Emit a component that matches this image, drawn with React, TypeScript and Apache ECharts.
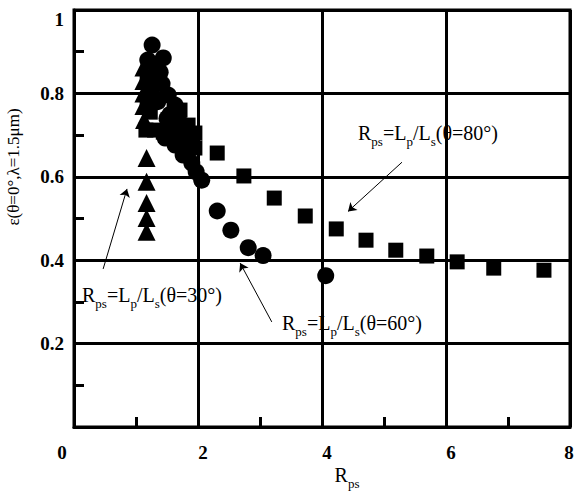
import React, { useEffect, useRef } from 'react';
import * as echarts from 'echarts';

// θ = 60° (circles)
const circles60: number[][] = [
  [1.26, 0.916], [1.19, 0.880], [1.44, 0.885], [1.33, 0.860], [1.39, 0.851],
  [1.42, 0.823], [1.30, 0.820], [1.52, 0.796], [1.35, 0.780], [1.63, 0.772],
  [1.55, 0.750], [1.68, 0.743], [1.50, 0.740], [1.58, 0.720], [1.71, 0.717],
  [1.66, 0.700], [1.75, 0.700], [1.79, 0.688], [1.47, 0.693], [1.88, 0.680],
  [1.63, 0.676], [1.84, 0.659], [1.76, 0.652], [1.90, 0.633], [1.97, 0.612],
  [2.06, 0.592],
  [2.31, 0.518], [2.53, 0.472], [2.81, 0.430], [3.05, 0.411], [4.06, 0.363],
];

// θ = 80° (squares)
const squares80: number[][] = [
  [1.16, 0.712], [1.18, 0.780], [1.18, 0.830], [1.23, 0.755], [1.23, 0.796],
  [1.26, 0.837], [1.30, 0.712], [1.44, 0.707], [1.71, 0.760], [1.84, 0.724],
  [1.95, 0.705], [1.95, 0.669],
  [2.31, 0.657], [2.74, 0.602], [3.23, 0.549], [3.73, 0.506], [4.23, 0.475],
  [4.71, 0.448], [5.19, 0.424], [5.69, 0.410], [6.18, 0.396], [6.77, 0.381],
  [7.58, 0.376],
];

// θ = 30° (triangles)
const triangles30: number[][] = [
  [1.12, 0.862], [1.12, 0.830], [1.12, 0.800], [1.12, 0.770], [1.13, 0.736],
  [1.17, 0.645], [1.17, 0.588], [1.17, 0.537], [1.17, 0.501], [1.17, 0.468],
];

// annotation arrows [from, to] in data coordinates
const arrows: number[][][] = [
  [[5.29, 0.635], [4.42, 0.517]],
  [[0.47, 0.379], [0.855, 0.571]],
  [[3.19, 0.252], [2.68, 0.393]],
];

const annotationAngles = ['80', '30', '60'];
const xAxisName = 'Rps';
const yAxisName = 'ε(θ=0°,λ=1.5μm)';

export default function App() {
  const ref = useRef<HTMLDivElement>(null);
  useEffect(() => {
    const chart = echarts.init(ref.current!, null, { renderer: 'svg' });
    const serif = '"Liberation Serif", "Times New Roman", serif';
    const rich = {
      m: { fontSize: 20, fontFamily: serif, color: '#000', lineHeight: 22 },
      s: { fontSize: 13, fontFamily: serif, color: '#000', lineHeight: 14, padding: [16, 0, 0, 0] },
    };
    const annoText = (a: string) => `{m|R}{s|ps}{m|=L}{s|p}{m|/L}{s|s}{m|(θ=${a}°)}`;
    const annoPos = [[358, 133], [82, 295], [282, 323]];
    const graphics: any[] = annotationAngles.map((a, i) => ({
      type: 'text',
      x: annoPos[i][0],
      y: annoPos[i][1],
      silent: true,
      style: {
        text: annoText(a),
        rich,
        align: 'left',
        textAlign: 'left',
        verticalAlign: 'middle',
        textVerticalAlign: 'middle',
      },
    }));
    graphics.push({
      type: 'text',
      x: 347,
      y: 475,
      silent: true,
      style: {
        text: `{m|${xAxisName[0]}}{s|${xAxisName.slice(1)}}`,
        rich,
        align: 'center',
        textAlign: 'center',
        verticalAlign: 'middle',
        textVerticalAlign: 'middle',
      },
    });
    graphics.push({
      type: 'text',
      x: 13,
      y: 167,
      rotation: Math.PI / 2,
      silent: true,
      style: {
        text: yAxisName,
        fontSize: 17,
        fontFamily: serif,
        fill: '#000',
        align: 'center',
        textAlign: 'center',
        verticalAlign: 'middle',
        textVerticalAlign: 'middle',
      },
    });

    const labelFont = { fontSize: 19, fontFamily: serif, fontWeight: 'bold' as const, color: '#000' };
    const black3 = { color: '#000', width: 3 };

    chart.setOption({
      animation: false,
      backgroundColor: '#fff',
      grid: {
        left: 74, right: 8, top: 10, bottom: 67,
        show: true, borderColor: '#000', borderWidth: 3,
        containLabel: false,
        outerBoundsMode: 'none',
      },
      xAxis: {
        type: 'value',
        min: 0, max: 8, interval: 2,
        axisLine: { show: true, lineStyle: black3 },
        axisTick: { show: false, inside: true },
        minorTick: { show: true, splitNumber: 2, length: 10, lineStyle: black3 },
        splitLine: { show: true, lineStyle: black3 },
        minorSplitLine: { show: false },
        axisLabel: {
          margin: 16,
          ...labelFont,
          formatter: (v: number) => (v === 0 ? '{z|0}' : v === 8 ? '{e|8}' : `{n|${v}}`),
          rich: {
            z: { ...labelFont, padding: [0, 24, 0, 0] },
            n: { ...labelFont, padding: [0, 0, 0, 10] },
            e: { ...labelFont, padding: [0, 2, 0, 0] },
          },
        },
      },
      yAxis: {
        type: 'value',
        min: 0, max: 1, interval: 0.2,
        axisLine: { show: true, lineStyle: black3 },
        axisTick: { show: false, inside: true },
        minorTick: { show: true, splitNumber: 2, length: 10, lineStyle: black3 },
        splitLine: { show: true, lineStyle: black3 },
        minorSplitLine: { show: false },
        axisLabel: {
          margin: 10,
          ...labelFont,
          formatter: (v: number) => (v === 0 ? '' : v === 1 ? '{t|1}' : `{n|${v.toFixed(1)}}`),
          rich: {
            t: { ...labelFont, padding: [18, 0, 0, 0] },
            n: { ...labelFont },
          },
        },
      },
      series: [
        {
          type: 'scatter',
          data: circles60,
          symbol: 'circle',
          symbolSize: 17,
          itemStyle: { color: '#000', opacity: 1 },
          markLine: {
            silent: true,
            animation: false,
            symbol: ['none', 'arrow'],
            symbolSize: 8,
            label: { show: false },
            lineStyle: { color: '#000', width: 1, type: 'solid' },
            emphasis: { disabled: true },
            data: arrows.map((a) => [{ coord: a[0] }, { coord: a[1] }]),
          },
        },
        {
          type: 'scatter',
          data: squares80,
          symbol: 'rect',
          symbolSize: 15,
          itemStyle: { color: '#000', opacity: 1 },
        },
        {
          type: 'scatter',
          data: triangles30,
          symbol: 'triangle',
          symbolSize: 18,
          itemStyle: { color: '#000', opacity: 1 },
        },
      ],
      graphic: graphics,
    });
    return () => chart.dispose();
  }, []);
  return (
    <div
      ref={ref}
      style={{ position: 'absolute', left: 0, top: 0, width: 578, height: 494, background: '#fff' }}
    />
  );
}
